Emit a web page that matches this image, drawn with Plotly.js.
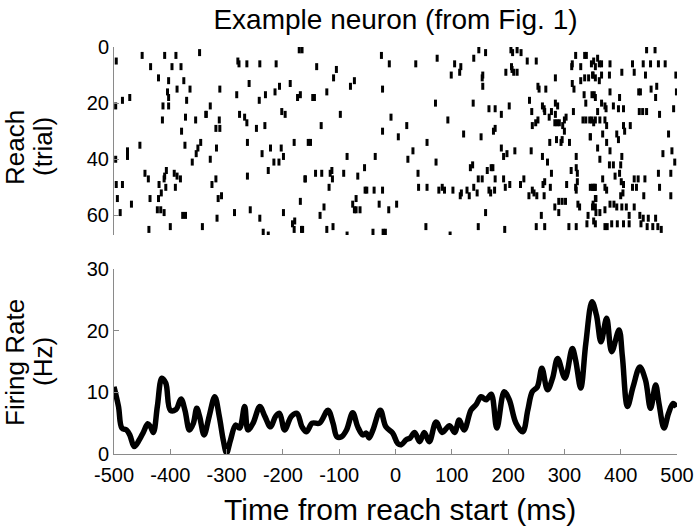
<!DOCTYPE html>
<html><head><meta charset="utf-8">
<script src="https://cdn.plot.ly/plotly-3.0.1.min.js"></script>
<style>html,body{margin:0;padding:0;background:#fff}#chart{width:695px;height:529px}</style>
</head><body><div id="chart"></div>
<script>
// Spike raster: [time (ms), trial]
const spikeEvents = [
[-496,5],[-450,3],[-410,3],[-390,3],[-348,2],[-435,7],[-397,7],[-381,7],[-421,11],[-403,12],[-376,12],[-388,15],[-365,15],[-405,16],[-403,18],[-371,19],[-485,19],[-472,18],[-497,21],[-413,21],[-403,21],[-336,24],[-373,25],[-414,26],[-355,26],[-380,30],[-454,35],[-374,35],[-346,34],[-351,36],[-354,38],[-476,37],[-476,39],[-497,40],[-361,41],[-445,45],[-439,47],[-407,44],[-410,46],[-411,47],[-393,45],[-388,46],[-382,47],[-496,49],[-485,49],[-420,49],[-408,50],[-391,50],[-416,52],[-494,54],[-436,54],[-421,54],[-469,56],[-489,59],[-423,58],[-417,58],[-411,59],[-378,60],[-373,60],[-438,65],[-400,64],[-343,64],
[-171,1],[-166,1],[-280,5],[-278,6],[-264,6],[-241,6],[-212,6],[-312,15],[-260,13],[-282,17],[-242,19],[-231,17],[-214,16],[-206,14],[-187,13],[-174,18],[-169,17],[-329,21],[-337,24],[-277,24],[-268,25],[-264,27],[-313,26],[-319,29],[-312,29],[-247,29],[-232,28],[-202,23],[-196,24],[-318,36],[-263,34],[-180,34],[-329,40],[-237,38],[-222,36],[-203,36],[-199,39],[-216,41],[-207,41],[-226,44],[-263,46],[-319,47],[-326,49],[-161,47],[-315,54],[-309,53],[-169,55],[-317,61],[-286,59],[-258,58],[-241,61],[-199,59],[-179,62],[-183,63],[-180,65],[-167,65],[-235,66],[-226,67],
[-25,3],[-11,6],[-140,7],[-105,8],[-110,11],[-73,12],[-80,14],[-122,16],[-23,15],[-147,18],[-144,18],[-98,24],[-8,25],[-132,28],[-23,30],[5,32],[-155,34],[-151,34],[-86,39],[-36,39],[-55,43],[-160,47],[-142,45],[-131,45],[-116,45],[-113,44],[-112,47],[-92,45],[-67,46],[-118,50],[-54,51],[-51,51],[-38,51],[-23,51],[-70,54],[-76,56],[-73,58],[-70,58],[-63,58],[-29,56],[-12,58],[2,56],[-127,57],[-134,60],[-165,65],[-122,65],[-111,64],[-86,67],[-40,66],[-22,66],[-18,66],
[148,1],[160,2],[139,4],[74,4],[36,6],[105,6],[116,7],[114,9],[99,10],[155,10],[154,11],[155,14],[71,20],[138,20],[166,22],[177,22],[93,26],[20,28],[121,31],[152,32],[174,30],[177,29],[56,34],[31,37],[22,40],[72,41],[133,43],[137,42],[40,45],[163,44],[170,43],[173,43],[147,47],[154,47],[177,47],[41,50],[56,50],[77,51],[83,50],[87,51],[102,51],[115,53],[117,52],[127,51],[131,53],[139,50],[145,52],[166,51],[169,52],[176,51],[160,59],[54,64],[147,64],[97,67],
[205,1],[208,2],[216,1],[223,2],[234,5],[250,5],[320,3],[336,3],[339,3],[314,6],[313,7],[329,7],[348,6],[355,7],[206,7],[196,9],[210,9],[216,9],[207,8],[284,11],[314,13],[317,15],[329,12],[336,11],[343,11],[351,10],[253,14],[255,15],[267,15],[335,17],[338,20],[349,17],[355,18],[238,19],[202,21],[188,24],[261,21],[264,22],[284,20],[288,21],[242,23],[265,23],[277,23],[284,24],[316,23],[273,25],[253,26],[249,27],[243,28],[283,27],[287,27],[291,27],[300,26],[303,25],[297,28],[333,26],[338,26],[345,26],[352,27],[300,30],[346,32],[274,34],[286,33],[294,34],[296,33],[309,34],[188,36],[192,39],[198,38],[212,37],[241,37],[261,39],[270,41],[321,39],[277,45],[312,44],[321,43],[323,45],[192,47],[195,50],[203,49],[222,49],[228,47],[237,53],[243,51],[246,52],[251,53],[264,53],[262,49],[265,48],[275,50],[304,49],[320,50],[323,48],[321,51],[346,50],[351,50],[355,50],[355,54],[283,57],[290,55],[296,55],[302,55],[324,56],[327,57],[351,56],[355,57],[259,60],[290,59],[342,60],[250,64],[265,64],[308,64],[321,64],[340,63],[352,62],[194,65],
[446,1],[461,1],[352,5],[359,4],[362,6],[366,6],[381,6],[421,6],[440,6],[453,6],[467,6],[479,6],[350,10],[355,11],[362,12],[366,10],[380,10],[402,9],[424,9],[444,10],[498,10],[353,17],[381,16],[398,18],[432,16],[435,16],[454,15],[464,14],[462,18],[499,16],[359,23],[366,20],[372,21],[374,22],[387,21],[396,22],[405,22],[433,23],[439,23],[446,23],[469,24],[494,22],[349,26],[355,26],[363,26],[372,26],[375,28],[346,32],[368,31],[393,31],[396,33],[405,28],[407,30],[417,28],[485,31],[359,36],[375,34],[381,37],[402,39],[363,40],[475,38],[491,37],[496,41],[380,42],[387,42],[400,42],[390,46],[368,47],[398,45],[401,48],[424,47],[431,47],[443,47],[467,45],[489,45],[350,50],[354,50],[372,50],[375,51],[405,49],[421,50],[428,50],[404,52],[469,50],[356,54],[400,53],[441,53],[489,53],[350,57],[356,59],[363,59],[372,58],[381,56],[388,56],[393,57],[402,57],[410,57],[424,57],[415,60],[434,60],[440,61],[449,61],[462,61],[355,63],[372,64],[376,64],[384,63],[394,63],[405,63],[415,63],[436,63],[447,64],[457,64],[466,64],[472,65]
];

// Firing rate (Hz) vs time (ms)
const rateTime = [-500,-492,-486,-478,-472,-464,-455,-448,-440,-435,-430,-423,-415,-408,-400,-390,-381,-374,-366,-359,-353,-348,-340,-331,-321,-313,-306,-300,-293,-284,-277,-268,-262,-253,-241,-232,-222,-213,-206,-197,-185,-175,-166,-158,-148,-135,-120,-111,-104,-96,-87,-76,-67,-58,-52,-47,-40,-27,-17,-5,4,10,19,26,34,43,51,60,72,83,96,105,113,122,134,143,152,161,170,180,193,202,214,226,235,243,252,260,270,279,288,301,314,320,329,338,349,357,365,375,384,397,403,412,422,434,444,453,462,468,477,485,493,499];
const rateHz = [10.9,7.7,4.2,3.9,3.1,1.2,2.3,3.5,4.9,4.4,3.5,7.7,12.3,11.5,7.1,7.2,8.9,7.1,3.9,5.0,7.4,6.1,3.1,6.1,9.3,6.1,2.3,0.2,2.3,4.7,4.2,7.7,3.9,5.0,7.7,6.1,4.4,6.1,6.6,3.9,6.1,6.6,4.4,3.6,5.0,5.0,7.1,5.0,2.8,2.8,3.9,6.7,4.4,3.1,3.4,2.6,3.9,7.1,4.4,3.4,1.7,1.5,2.3,2.6,3.5,2.0,3.5,2.0,5.2,3.5,4.6,3.5,5.5,3.9,7.1,8.0,9.3,8.8,9.7,4.2,10.1,8.8,5.0,3.6,7.1,10.1,10.9,13.9,10.4,12.3,15.5,12.3,17.1,15.2,10.7,17.9,24.7,22.5,18.2,22.0,16.6,20.1,15.8,7.7,10.9,14.1,12.0,7.4,11.2,8.2,4.2,6.6,8.2,7.6];

const yTicks = [0, 20, 40, 60];
const hzTicks = [0, 10, 20, 30];
const timeTicks = [-500,-400,-300,-200,-100,0,100,200,300,400,500];

const FONT = '"Liberation Sans", Arial, Helvetica, sans-serif';
const AX = '#8a8a8a';

const traces = [
  {
    type: 'scatter', mode: 'markers', xaxis: 'x', yaxis: 'y',
    x: spikeEvents.map(d => d[0]), y: spikeEvents.map(d => d[1]),
    marker: {symbol: 'line-ns', size: 5, color: '#000', line: {color: '#000', width: 3}},
    hoverinfo: 'skip'
  },
  {
    type: 'scatter', mode: 'lines', xaxis: 'x2', yaxis: 'y2',
    x: rateTime, y: rateHz,
    line: {color: '#000', width: 5.5, shape: 'spline', smoothing: 1},
    hoverinfo: 'skip'
  }
];

const axBase = {
  showgrid: false, zeroline: false, showline: true, linecolor: AX, linewidth: 1,
  ticks: 'inside', ticklen: 5, tickcolor: AX, tickwidth: 1,
  tickfont: {family: FONT, size: 20, color: '#000'}
};

const yTitleFont = {family: FONT, size: 26, color: '#000'};
function yTitle(text, px, py) {
  return {text: text, xref: 'paper', yref: 'paper', x: (px-114)/563, y: (454-py)/407, textangle: -90,
          xanchor: 'center', yanchor: 'middle', showarrow: false, font: yTitleFont};
}

const layout = {
  width: 695, height: 529,
  margin: {l: 114, r: 18, t: 47, b: 75},
  paper_bgcolor: '#fff', plot_bgcolor: 'rgba(0,0,0,0)',
  showlegend: false,
  font: {family: FONT, size: 20, color: '#000'},
  title: {text: 'Example neuron (from Fig. 1)', font: {family: FONT, size: 28, color: '#000'},
          x: 0.5, xref: 'paper', xanchor: 'center', y: 1 - 19/529, yref: 'container', yanchor: 'middle'},
  xaxis: {domain: [0, 1], range: [-500, 500], visible: false, anchor: 'y'},
  yaxis: Object.assign({}, axBase, {domain: [0.538, 1], range: [67, 0], tickvals: yTicks,
          ticktext: yTicks.map(String), anchor: 'x'}),
  xaxis2: Object.assign({}, axBase, {domain: [0, 1], range: [-500, 500], tickvals: timeTicks,
          ticktext: timeTicks.map(String), anchor: 'y2', ticklabelstandoff: 3}),
  yaxis2: Object.assign({}, axBase, {domain: [0, 0.4545], range: [0, 30], tickvals: hzTicks,
          ticktext: hzTicks.map(String), anchor: 'x2'}),
  annotations: [
    yTitle('Reach', 15, 148),
    yTitle('(trial)', 43, 147),
    yTitle('Firing Rate', 15, 363),
    yTitle('(Hz)', 43, 362),
    {text: 'Time from reach start (ms)', xref: 'paper', yref: 'paper', x: (400-114)/563, y: (454-509)/407,
     xanchor: 'center', yanchor: 'middle', showarrow: false, font: {family: FONT, size: 30, color: '#000'}}
  ]
};

Plotly.newPlot('chart', traces, layout, {displayModeBar: false, staticPlot: true});
</script></body></html>
